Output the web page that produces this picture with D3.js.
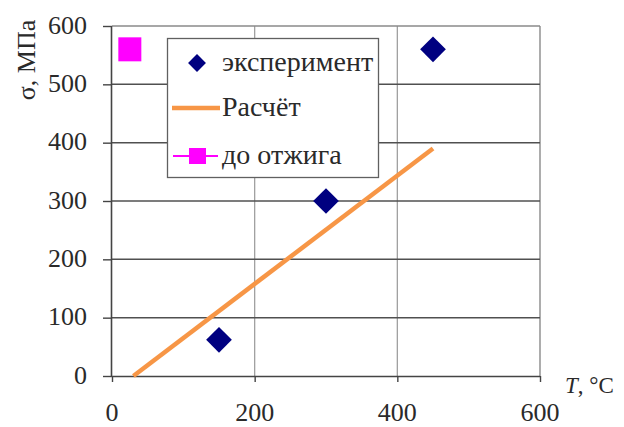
<!DOCTYPE html>
<html>
<head>
<meta charset="utf-8">
<script src="https://cdn.jsdelivr.net/npm/d3@7"></script>
<style>
  body { margin: 0; background: #fff; }
  svg { display: block; }
</style>
</head>
<body>
<svg id="chart" width="624" height="427"></svg>
<script>
// data
const xTicks = [0, 200, 400, 600],
    yTicks = [0, 100, 200, 300, 400, 500, 600];
const experiment = [[150, 62], [300, 300], [450, 560]];   // T, sigma
const calc = [[30, 0], [450, 390]];
const beforeAnneal = [[25, 560]];
const legendItems = ["эксперимент", "Расчёт", "до отжига"];

const font = "'Liberation Serif', 'Times New Roman', serif",
    textColor = "#2a2a2a";

const svg = d3.select("#chart"),
    margin = {top: 26, right: 84, bottom: 51, left: 112},
    width = +svg.attr("width") - margin.left - margin.right,
    height = +svg.attr("height") - margin.top - margin.bottom;

const x = d3.scaleLinear().domain([0, 600]).range([margin.left, margin.left + width]),
    y = d3.scaleLinear().domain([0, 600]).range([margin.top + height, margin.top]);

// text goes straight onto the svg
function label(px, py, txt, size, anchor) {
  return svg.append("text")
      .attr("x", px).attr("y", py)
      .attr("text-anchor", anchor || "start")
      .attr("font-family", font)
      .attr("font-size", size)
      .attr("fill", textColor)
      .text(txt);
}

// grid: vertical light, horizontal dark
svg.append("g").selectAll("line")
    .data(xTicks.slice(1))
  .enter().append("line")
    .attr("x1", d => x(d)).attr("x2", d => x(d))
    .attr("y1", y(600)).attr("y2", y(0))
    .attr("stroke", d => d === 600 ? "#808080" : "#a0a0a0").attr("stroke-width", 1.3);

svg.append("g").selectAll("line")
    .data(yTicks.slice(1))
  .enter().append("line")
    .attr("x1", x(0)).attr("x2", x(600))
    .attr("y1", d => y(d)).attr("y2", d => y(d))
    .attr("stroke", d => d === 600 ? "#8a8a8a" : "#505050").attr("stroke-width", 1.5);

// axes lines + tick marks
const xAxis = svg.append("g")
    .attr("transform", "translate(0," + y(0) + ")")
    .call(d3.axisBottom(x).tickValues(xTicks).tickSize(6).tickFormat(""));
const yAxis = svg.append("g")
    .attr("transform", "translate(" + x(0) + ",0)")
    .call(d3.axisLeft(y).tickValues(yTicks).tickSize(9).tickFormat(""));

[xAxis, yAxis].forEach(a => {
  a.select(".domain").attr("stroke", "#444").attr("stroke-width", 1.6);
  a.selectAll(".tick line").attr("stroke", "#444").attr("stroke-width", 1.4);
  a.selectAll("text").remove();
});
xAxis.select(".domain").attr("d", "M" + x(0) + ",0.5H" + x(600));
yAxis.select(".domain").attr("d", "M-0.5," + y(0) + "V" + y(600));

// tick labels
xTicks.forEach(d => label(x(d), 421, d, 26, "middle"));
yTicks.forEach(d => label(x(0) - 25, y(d), d, 26, "end").attr("dy", "0.3em"));

// calculation line
svg.append("path")
    .datum(calc)
    .attr("fill", "none")
    .attr("stroke", "#f79646")
    .attr("stroke-width", 4.5)
    .attr("d", d3.line().x(d => x(d[0])).y(d => y(d[1])));

// experiment diamonds
svg.append("g").selectAll("path")
    .data(experiment)
  .enter().append("path")
    .attr("d", d3.symbol().type(d3.symbolSquare).size(330))
    .attr("fill", "#000080")
    .attr("transform", d => "translate(" + x(d[0]) + "," + y(d[1]) + ") rotate(45)");

// before-anneal square
svg.append("g").selectAll("rect")
    .data(beforeAnneal)
  .enter().append("rect")
    .attr("x", d => x(d[0]) - 11.5).attr("y", d => y(d[1]) - 12)
    .attr("width", 23).attr("height", 24)
    .attr("fill", "#ff00ff");

// legend
const lx = 167, ly = 38,
    rows = [ly + 25, ly + 70, ly + 118];
svg.append("rect")
    .attr("x", lx + 0.5).attr("y", ly + 0.5)
    .attr("width", 211).attr("height", 139)
    .attr("fill", "#fff").attr("stroke", "#606060").attr("stroke-width", 1.3);

legendItems.forEach((d, i) => label(lx + 55, rows[i], d, 28).attr("dy", "0.28em"));

svg.append("path")
    .attr("d", d3.symbol().type(d3.symbolSquare).size(160))
    .attr("fill", "#000080")
    .attr("transform", "translate(" + (lx + 30) + "," + rows[0] + ") rotate(45)");
svg.append("line")
    .attr("x1", lx + 5).attr("x2", lx + 53).attr("y1", rows[1]).attr("y2", rows[1])
    .attr("stroke", "#f79646").attr("stroke-width", 4.5);
svg.append("line")
    .attr("x1", lx + 6).attr("x2", lx + 51).attr("y1", rows[2]).attr("y2", rows[2])
    .attr("stroke", "#ff00ff").attr("stroke-width", 1.8);
svg.append("rect")
    .attr("x", lx + 22).attr("y", rows[2] - 8).attr("width", 17).attr("height", 16)
    .attr("fill", "#ff00ff");

// axis titles
label(0, 0, "σ, МПа", 26, "middle")
    .attr("transform", "translate(35,60) rotate(-90)");

const xt = label(565, 393, "", 23);
xt.append("tspan").attr("font-style", "italic").text("T");
xt.append("tspan").text(", °C");
</script>
</body>
</html>
